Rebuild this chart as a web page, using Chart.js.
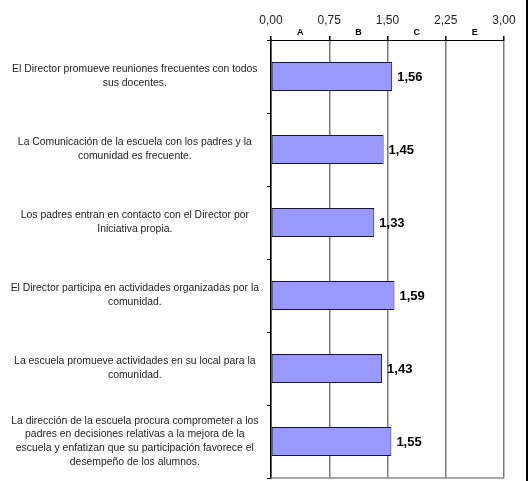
<!DOCTYPE html>
<html>
<head>
<meta charset="utf-8">
<script src="https://cdn.jsdelivr.net/npm/chart.js@4"></script>
<style>
  body { margin: 0; background: #fff; }
  canvas { display: block; }
</style>
</head>
<body>
<canvas id="grafico" width="531" height="481"></canvas>
<script>
// Datos del gráfico
var categorias = [
    ['El Director promueve reuniones frecuentes con todos', 'sus docentes.'],
    ['La Comunicación de la escuela con los padres y la', 'comunidad es frecuente.'],
    ['Los padres entran en contacto con el Director por', 'Iniciativa propia.'],
    ['El Director participa en actividades organizadas por la', 'comunidad.'],
    ['La escuela promueve actividades en su local para la', 'comunidad.'],
    ['La dirección de la escuela procura comprometer a los', 'padres en decisiones relativas a la mejora de la', 'escuela y enfatizan que su participación favorece el', 'desempeño de los alumnos.']
]
var valores = [1.56, 1.45, 1.33, 1.59, 1.43, 1.55]
var ejeMin = 0
var ejeMax = 3
var ejePaso = 0.75
var letras = ['A', 'B', 'C', 'E']

function formatoComa(v) {
    return Number(v).toFixed(2).replace('.', ',')
}

// Letras entre las líneas de la escala, valores a la derecha de cada barra, borde
const pluginExtras = {
    id: 'extras',
    afterDraw(chart) {
        const ctx = chart.ctx
        const x = chart.scales.x
        const area = chart.chartArea

        // línea inferior del área
        ctx.save()
        ctx.strokeStyle = '#8c8c8c'
        ctx.lineWidth = 1.5
        ctx.beginPath()
        ctx.moveTo(area.left, area.bottom)
        ctx.lineTo(area.right, area.bottom)
        ctx.stroke()

        // letras A B C E
        ctx.fillStyle = '#000'
        ctx.font = 'bold 9px "Liberation Sans", Arial, sans-serif'
        ctx.textAlign = 'center'
        ctx.textBaseline = 'middle'
        for (var i = 0; i < letras.length; i++) {
            var medio = ejeMin + ejePaso * (i + 0.5)
            ctx.fillText(letras[i], x.getPixelForValue(medio), area.top - 7)
        }

        // etiquetas de valor
        ctx.font = 'bold 13px "Liberation Sans", Arial, sans-serif'
        ctx.textAlign = 'left'
        const meta = chart.getDatasetMeta(0)
        meta.data.forEach((barra, j) => {
            ctx.fillText(formatoComa(valores[j]), barra.x + 5, barra.y + 1)
        })

        // borde derecho
        ctx.strokeStyle = '#000'
        ctx.lineWidth = 2
        ctx.beginPath()
        ctx.moveTo(chart.width - 4, 0)
        ctx.lineTo(chart.width - 4, chart.height)
        ctx.stroke()
        ctx.restore()
    }
}

const ctxGrafico = document.getElementById('grafico').getContext('2d')
const grafico = new Chart(ctxGrafico, {
    type: 'bar',
    data: {
        labels: categorias,
        datasets: [{
            data: valores,
            backgroundColor: '#9999ff',
            borderColor: '#141440',
            borderWidth: 1,
            borderSkipped: false,
            categoryPercentage: 1,
            barPercentage: 0.4
        }]
    },
    options: {
        indexAxis: 'y',
        responsive: false,
        animation: false,
        devicePixelRatio: 1,
        layout: { padding: { top: 0, left: 0, right: 27, bottom: 3 } },
        plugins: {
            legend: { display: false },
            tooltip: { enabled: false }
        },
        scales: {
            x: {
                position: 'top',
                min: ejeMin,
                max: ejeMax,
                ticks: {
                    stepSize: ejePaso,
                    padding: 8,
                    color: '#222',
                    font: { family: '"Liberation Sans", Arial, sans-serif', size: 12 },
                    callback: (v) => formatoComa(v)
                },
                grid: {
                    color: '#7a7a7a',
                    lineWidth: 1.5,
                    tickLength: 4,
                    tickColor: '#000'
                },
                border: { color: '#000', width: 1 },
                afterFit: (escala) => {
                    escala.height = 40
                    escala.paddingLeft = 0
                    escala.paddingRight = 0
                }
            },
            y: {
                ticks: {
                    crossAlign: 'center',
                    padding: 8,
                    color: '#222',
                    font: { family: '"Liberation Sans", Arial, sans-serif', size: 10.4, lineHeight: 1.33 }
                },
                grid: {
                    drawOnChartArea: false,
                    tickLength: 4,
                    color: '#000'
                },
                border: { color: '#000', width: 1.5 },
                afterFit: (escala) => {
                    escala.width = 271
                    escala.paddingTop = 0
                    escala.paddingBottom = 0
                }
            }
        }
    },
    plugins: [pluginExtras]
})
</script>
</body>
</html>
